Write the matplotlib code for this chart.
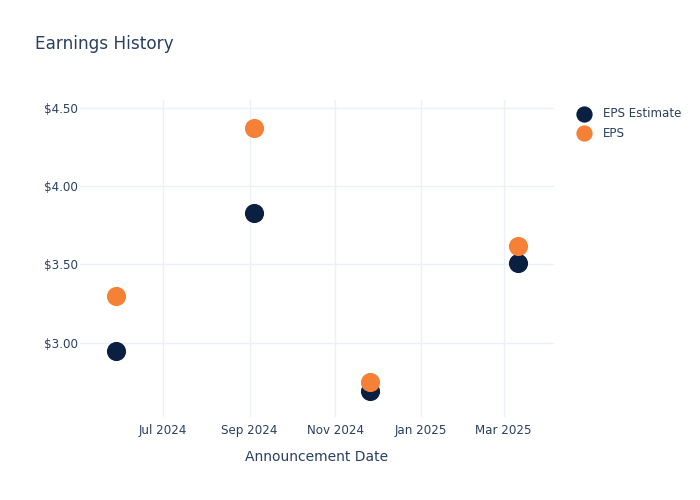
import matplotlib
matplotlib.use("Agg")
import matplotlib.pyplot as plt
import matplotlib.dates as mdates
import numpy as np
import datetime as dt

# data
dates = ["2024-05-29", "2024-09-04", "2024-11-26", "2025-03-11"]
eps_estimate = [2.95, 3.83, 2.69, 3.51]
eps_actual = [3.30, 4.37, 2.75, 3.62]
tick_dates = ["2024-07-01", "2024-09-01", "2024-11-01", "2025-01-01", "2025-03-01"]
tick_labels = ["Jul 2024", "Sep 2024", "Nov 2024", "Jan 2025", "Mar 2025"]
y_ticks = [3.0, 3.5, 4.0, 4.5]

txt = "#2a3f5f"
grid = "#ebf0f8"
navy = "#0b1f41"
orange = "#f58137"

x = [dt.datetime.strptime(d, "%Y-%m-%d") for d in dates]
xt = [dt.datetime.strptime(d, "%Y-%m-%d") for d in tick_dates]

fig = plt.figure(figsize=(7, 5), dpi=100)
ax = fig.add_axes([80/700, 1 - 417/500, (554-80)/700, (417-100)/500])

ax.scatter(x, eps_estimate, s=190, color=navy, label="EPS Estimate", zorder=3, linewidths=0)
ax.scatter(x, eps_actual, s=190, color=orange, label="EPS", zorder=4, linewidths=0)

ax.set_xlim(dt.datetime(2024, 5, 3), dt.datetime(2025, 4, 6))
ax.set_ylim(2.525, 4.551)
ax.set_xticks(xt)
ax.set_xticklabels(tick_labels)
ax.set_yticks(y_ticks)
ax.set_yticklabels(["$%.2f" % v for v in y_ticks])

ax.grid(True, color=grid, linewidth=1)
ax.set_axisbelow(True)
for s in ax.spines.values():
    s.set_visible(False)
ax.tick_params(length=0, colors=txt, labelsize=8.6)
ax.tick_params(axis="y", pad=1.5)
ax.tick_params(axis="x", pad=5)

ax.set_xlabel("Announcement Date", color=txt, fontsize=10, labelpad=9.5)
fig.text(35/700, 1 - 44/500, "Earnings History", color=txt, fontsize=12.2, va="center")

leg = ax.legend(loc="upper left", bbox_to_anchor=(1.027, 0.993), frameon=False,
                fontsize=8.6, labelcolor=txt, handletextpad=0.6, borderaxespad=0,
                labelspacing=0.55, markerscale=0.85)

fig.savefig("out.png", dpi=100)
